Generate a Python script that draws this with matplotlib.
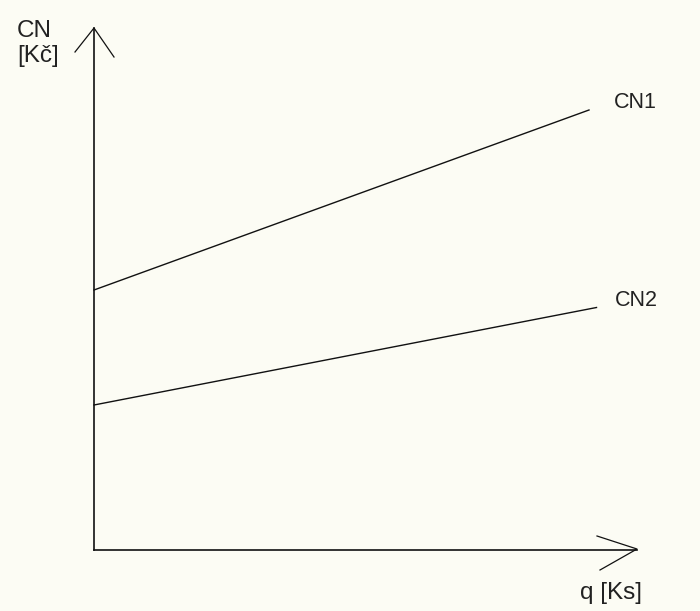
import matplotlib

matplotlib.use("Agg")
import matplotlib.pyplot as plt

# Schematic cost lines: CN [Kč] vs q [Ks]
q1 = [0, 99]
cn1 = [52, 88]
q2 = [0, 100.5]
cn2 = [29, 48.5]
series_labels = ["CN1", "CN2"]
y_label = "CN\n[Kč]"
x_label = "q [Ks]"

BG = "#fcfcf4"
INK = "#111111"
TEXT = "#222222"

plt.rcParams["font.family"] = ["Liberation Sans", "DejaVu Sans"]

fig = plt.figure(figsize=(7.0, 6.11), dpi=100, facecolor=BG)
ax = fig.add_axes([0, 0, 1, 1])
ax.set_facecolor(BG)
ax.set_xlim(-18.8, 121.2)
ax.set_ylim(-12.2, 110)
ax.axis("off")

# hand-drawn style axes with open arrowheads
ax.plot([0, 0], [0, 104.4], color=INK, lw=1.2)
ax.plot([-3.8, 0, 4.0], [99.6, 104.4, 98.6], color=INK, lw=0.9)
ax.plot([0, 108.6], [0, 0], color=INK, lw=1.2)
ax.plot([100.6, 108.6, 101.2], [2.8, 0.2, -4.0], color=INK, lw=0.9)

ax.plot(q1, cn1, color=INK, lw=1.0)
ax.plot(q2, cn2, color=INK, lw=1.0)

ax.text(104.0, 89.5, series_labels[0], fontsize=15.5, color=TEXT,
        ha="left", va="center")
ax.text(104.2, 49.9, series_labels[1], fontsize=15.5, color=TEXT,
        ha="left", va="center")
ax.text(97.2, -8.6, x_label, fontsize=17.5, color=TEXT, ha="left", va="center")
ax.text(-15.4, 106.0, y_label, fontsize=17.5, color=TEXT, ha="left", va="top",
        linespacing=1.2)

fig.savefig("out.png", dpi=100, facecolor=BG)
